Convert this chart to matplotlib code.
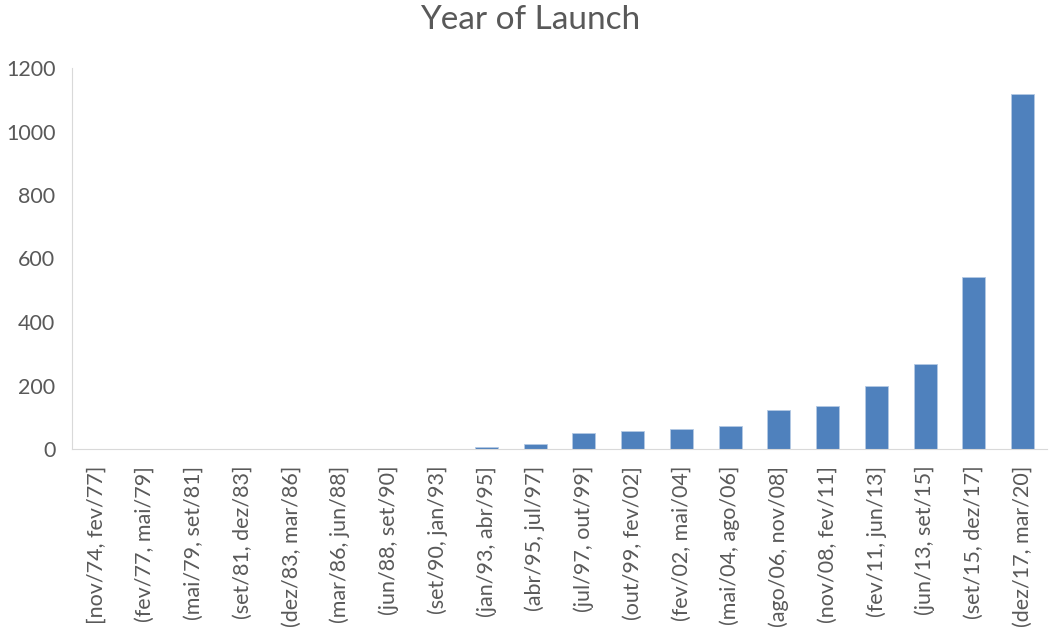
import matplotlib.pyplot as plt

# launch-date bins and how many fall in each
bins = [
    "[nov/74, fev/77]", "(fev/77, mai/79]", "(mai/79, set/81]", "(set/81, dez/83]",
    "(dez/83, mar/86]", "(mar/86, jun/88]", "(jun/88, set/90]", "(set/90, jan/93]",
    "(jan/93, abr/95]", "(abr/95, jul/97]", "(jul/97, out/99]", "(out/99, fev/02]",
    "(fev/02, mai/04]", "(mai/04, ago/06]", "(ago/06, nov/08]", "(nov/08, fev/11]",
    "(fev/11, jun/13]", "(jun/13, set/15]", "(set/15, dez/17]", "(dez/17, mar/20]",
]
counts = [0, 0, 0, 0, 0, 0, 0, 0, 5, 15, 50, 58, 62, 74, 124, 137, 200, 268, 541, 1118]
yticks = [0, 200, 400, 600, 800, 1000, 1200]

TEXT = "#595959"
plt.rcParams['font.family'] = ['Lato', 'DejaVu Sans']


def main():
    fig = plt.figure(figsize=(10.49, 6.35), dpi=100)
    ax = fig.add_axes([72 / 1049, 1 - 449 / 635, 975 / 1049, 381 / 635])

    x = range(len(bins))
    ax.bar(x, counts, width=0.47, color="#4f81bd", edgecolor="#b4c9e4", linewidth=0.6)

    ax.set_xlim(-0.5, len(bins) - 0.5)
    ax.set_ylim(0, 1200)
    ax.set_yticks(yticks)
    ax.set_xticks(list(x))
    ax.set_xticklabels(bins, rotation=90)
    ax.tick_params(axis="both", length=0, colors=TEXT)
    ax.tick_params(axis="x", pad=12, labelsize=15.5)
    ax.tick_params(axis="y", pad=12, labelsize=15.5)

    for side in ("top", "right"):
        ax.spines[side].set_visible(False)
    ax.spines["left"].set_color("#d9d9d9")
    ax.spines["bottom"].set_color("#d9d9d9")

    fig.text(0.505, 1 - 20 / 635, "Year of Launch", ha="center", va="center",
             fontsize=24, color=TEXT)

    plt.savefig("out.png", dpi=100)


if __name__ == "__main__":
    main()
